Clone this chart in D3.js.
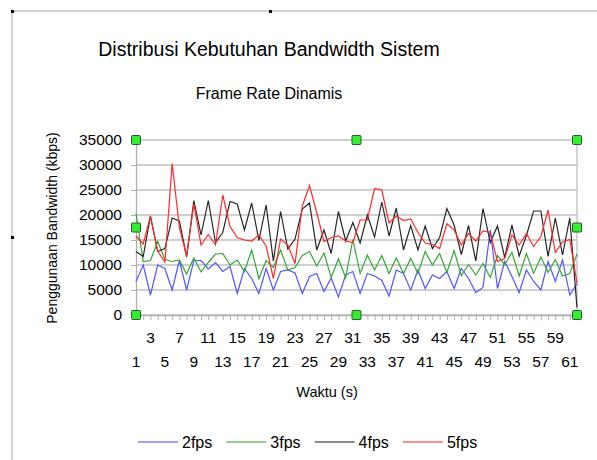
<!DOCTYPE html>
<html>
<head>
<meta charset="utf-8">
<script src="https://cdn.jsdelivr.net/npm/d3@7"></script>
<style>
  body { margin: 0; background: #fff; }
  svg { display: block; font-family: "Liberation Sans", Arial, sans-serif; }
</style>
</head>
<body>
<svg id="chart" width="597" height="460"></svg>
<script>
// Data (kbps per second, t = 1..62)
let seconds = d3.range(1, 63);

let fps2 = [6700, 10000, 4000, 10000, 9300, 5000, 10900, 5000, 10900, 10900,
  9200, 10500, 8700, 9700, 4300, 9300, 7300, 4300, 9300, 5000,
  8700, 9000, 8400, 4300, 7700, 8300, 4700, 7400, 3600, 8000,
  8700, 4300, 8300, 7800, 6900, 3800, 9000, 8300, 5000, 9000,
  5300, 8000, 7300, 8700, 5300, 9300, 7300, 4500, 5500, 17000,
  5300, 10700, 7700, 4500, 9000, 6700, 5000, 10700, 6700, 11000,
  4000, 6300];

let fps3 = [20300, 10700, 10900, 14700, 11100, 10700, 11000, 8200, 11400, 8600,
  10500, 12200, 12300, 10000, 11000, 8700, 13000, 7300, 10900, 9500,
  13000, 9000, 9500, 11900, 12700, 9800, 12400, 7500, 11200, 7500,
  15100, 8300, 12000, 9000, 11900, 8300, 11400, 8300, 11300, 8300,
  12700, 10000, 12300, 8500, 12900, 7900, 10100, 8000, 10300, 7500,
  11900, 10100, 12500, 7800, 12300, 8300, 11600, 8500, 11100, 7800,
  8300, 12200];

let fps4 = [12700, 11700, 19800, 12700, 13300, 19400, 18800, 11600, 22900, 16000,
  22900, 14500, 16500, 22700, 22200, 17000, 22400, 14900, 22000, 10800,
  20700, 13200, 15200, 21200, 22400, 13000, 17000, 12300, 20700, 14800,
  18500, 14400, 20000, 15600, 22600, 15800, 21400, 13000, 17900, 13000,
  17800, 13300, 15500, 21300, 18000, 12100, 17900, 10800, 21300, 14500,
  17800, 11500, 18000, 11800, 15900, 20800, 20800, 11700, 19400, 12000,
  19400, 1500];

let fps5 = [15800, 14200, 19800, 12800, 10600, 30300, 17500, 11800, 22200, 14000,
  16100, 14000, 24000, 17700, 15500, 15000, 14800, 16000, 13800, 7300,
  15200, 14000, 10300, 21800, 25900, 20500, 14700, 15500, 15800, 14800,
  14500, 19000, 19000, 25300, 25000, 18400, 19800, 18900, 19200, 16500,
  14400, 14100, 13300, 18300, 17000, 14000, 16300, 14800, 16800, 16500,
  10700, 11300, 16000, 14000, 16300, 13700, 15700, 21000, 12500, 14600,
  15100, 6400];

let seriesNames = ["2fps", "3fps", "4fps", "5fps"];
let seriesColors = ["#5555ff", "#33a833", "#262626", "#ff2a2a"];
let legendColors = ["#8080ff", "#66c266", "#666666", "#ff6666"];
let yTicks = [0, 5000, 10000, 15000, 20000, 25000, 30000, 35000];

let svg = d3.select("#chart");

// page frame (selected chart border)
svg.append("line").attr("x1", 12).attr("y1", 11).attr("x2", 597).attr("y2", 11)
  .attr("stroke", "#c4c4c4").attr("stroke-width", 1.5);
svg.append("line").attr("x1", 12).attr("y1", 11).attr("x2", 12).attr("y2", 460)
  .attr("stroke", "#c4c4c4").attr("stroke-width", 1.5);
[[11, 10], [269, 10], [11, 236]].forEach(function (p) {
  svg.append("rect").attr("x", p[0]).attr("y", p[1]).attr("width", 3).attr("height", 3)
    .attr("fill", "#000");
});

// titles
svg.append("text").attr("x", 269).attr("y", 56).attr("text-anchor", "middle")
  .attr("font-size", 19.5).text("Distribusi Kebutuhan Bandwidth Sistem");
svg.append("text").attr("x", 269).attr("y", 99).attr("text-anchor", "middle")
  .attr("font-size", 16).text("Frame Rate Dinamis");

// scales
let x = d3.scalePoint().domain(seconds).range([136, 577]);
let y = d3.scaleLinear().domain([0, 35000]).range([315, 140]);

// grid
svg.append("g").selectAll("line").data(yTicks).enter().append("line")
  .attr("x1", 136).attr("x2", 577)
  .attr("y1", function (d) { return y(d); })
  .attr("y2", function (d) { return y(d); })
  .attr("stroke", "#c0c0c0").attr("stroke-width", 1.3);
svg.append("line").attr("x1", 577).attr("x2", 577).attr("y1", y(35000)).attr("y2", y(0))
  .attr("stroke", "#c0c0c0").attr("stroke-width", 1.3);

// y axis
let yAxis = svg.append("g").attr("transform", "translate(136,0)")
  .call(d3.axisLeft(y).tickValues(yTicks).tickSize(5).tickPadding(9).tickFormat(d3.format("d")));
yAxis.select(".domain").attr("stroke", "#b0b0b0").attr("stroke-width", 1.3);
yAxis.selectAll(".tick line").attr("stroke", "#b0b0b0");
yAxis.selectAll("text").attr("font-size", 15.5).attr("fill", "#000")
  .attr("font-family", "Liberation Sans, Arial, sans-serif");

// x axis
let xAxis = svg.append("g").attr("transform", "translate(0,315)")
  .call(d3.axisBottom(x).tickSize(5).tickFormat(""));
xAxis.select(".domain").attr("stroke", "#b0b0b0").attr("stroke-width", 1.3);
xAxis.selectAll(".tick line").attr("stroke", "#b0b0b0");

let xLabels = seconds.filter(function (d) { return d % 2 === 1; });
svg.append("g").selectAll("text").data(xLabels).enter().append("text")
  .attr("x", function (d) { return x(d); })
  .attr("y", function (d) { return (d % 4 === 3) ? 343 : 367; })
  .attr("text-anchor", "middle").attr("font-size", 15.5)
  .text(function (d) { return d; });

// axis titles
svg.append("text").attr("x", 327).attr("y", 397).attr("text-anchor", "middle")
  .attr("font-size", 14.5).text("Waktu (s)");
svg.append("text").attr("transform", "translate(57,228) rotate(-90)")
  .attr("text-anchor", "middle").attr("font-size", 14)
  .text("Penggunaan Bandwidth (kbps)");

// series lines
let allSeries = [fps2, fps3, fps4, fps5];
let line = d3.line()
  .x(function (d, i) { return x(seconds[i]); })
  .y(function (d) { return y(d); });

svg.append("g").selectAll("path").data(allSeries).enter().append("path")
  .attr("d", line)
  .attr("fill", "none")
  .attr("stroke", function (d, i) { return seriesColors[i]; })
  .attr("stroke-width", 1.2)
  .attr("stroke-linejoin", "miter");

// selection handles
let hx = [136, 356.5, 577];
let hy = [140, 227.5, 315];
let handles = [];
hx.forEach(function (a, i) {
  hy.forEach(function (b, j) {
    if (i === 1 && j === 1) return;
    handles.push([a, b]);
  });
});
svg.append("g").selectAll("rect").data(handles).enter().append("rect")
  .attr("x", function (d) { return d[0] - 4.5; })
  .attr("y", function (d) { return d[1] - 4.5; })
  .attr("width", 9).attr("height", 9).attr("rx", 1)
  .attr("fill", "#33ee33").attr("stroke", "#2a5a2a").attr("stroke-width", 1);

// legend
let legend = svg.append("g").selectAll("g").data(seriesNames).enter().append("g")
  .attr("transform", function (d, i) { return "translate(" + (138 + i * 88.3) + ",442)"; });
legend.append("line").attr("x1", 0).attr("x2", 40).attr("y1", 0).attr("y2", 0)
  .attr("stroke", function (d, i) { return legendColors[i]; }).attr("stroke-width", 1.5);
legend.append("text").attr("x", 44).attr("y", 5.5).attr("font-size", 16)
  .text(function (d) { return d; });
</script>
</body>
</html>
